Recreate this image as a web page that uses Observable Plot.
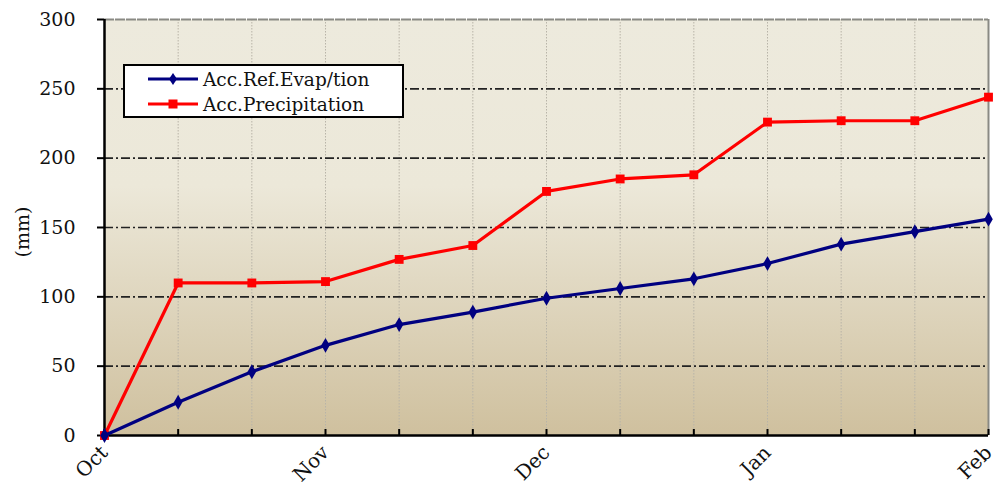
<!DOCTYPE html>
<html>
<head>
<meta charset="utf-8">
<script src="https://cdn.jsdelivr.net/npm/d3@7"></script>
<script src="https://cdn.jsdelivr.net/npm/@observablehq/plot@0.6"></script>
<style>
  html, body { margin: 0; padding: 0; background: #fff; }
  #wrap { position: relative; width: 1005px; height: 486px; font-family: "DejaVu Serif", serif; }
  #wrap svg text { font-family: "DejaVu Serif", serif; }
  #legend { position: absolute; left: 123px; top: 64px; width: 277px; height: 50px; background: #fff; border: 2px solid #000; }
  .row { position: absolute; left: 0; height: 24px; display: flex; align-items: center; font-size: 18.5px; color: #111; white-space: nowrap; font-family: "DejaVu Serif", serif; }
  .row svg { margin-left: 23px; margin-right: 5px; }
</style>
</head>
<body>
<div id="wrap"></div>
<script>
const periods = [0,1,2,3,4,5,6,7,8,9,10,11,12];
const monthTicks = [0,3,6,9,12];
const monthLabels = ["Oct","Nov","Dec","Jan","Feb"];
const evap = [0, 24, 46, 65, 80, 89, 99, 106, 113, 124, 138, 147, 156];
const precip = [0, 110, 110, 111, 127, 137, 176, 185, 188, 226, 227, 227, 244];
const yTicks = [0, 50, 100, 150, 200, 250, 300];
const gridY = [50, 100, 150, 200, 250];
const seriesNames = ["Acc.Ref.Evap/tion", "Acc.Precipitation"];

const evapData = periods.map((p, i) => ({p, v: evap[i]}));
const precData = periods.map((p, i) => ({p, v: precip[i]}));

const defs = () => {
  const d = d3.create("svg:defs");
  const g = d.append("linearGradient").attr("id", "bg").attr("x1", 0).attr("y1", 0).attr("x2", 0).attr("y2", 1);
  g.append("stop").attr("offset", "0%").attr("stop-color", "#edeadd");
  g.append("stop").attr("offset", "40%").attr("stop-color", "#ece8d9");
  g.append("stop").attr("offset", "100%").attr("stop-color", "#cfc09e");
  return d.node();
};

const chart = Plot.plot({
  width: 1005,
  height: 486,
  marginLeft: 104,
  marginRight: 17,
  marginTop: 19,
  marginBottom: 51,
  style: { fontFamily: "'DejaVu Serif', serif", background: "transparent", overflow: "visible" },
  x: { domain: [0, 12] },
  y: { domain: [0, 300] },
  marks: [
    defs,
    Plot.frame({ fill: "url(#bg)", stroke: null }),
    Plot.ruleX(periods.slice(1, -1), { stroke: "#b8b4a8", strokeWidth: 1, strokeDasharray: "1.5,1.5" }),
    Plot.ruleY(gridY, { stroke: "#222", strokeWidth: 1.6, strokeDasharray: "9,3,2,3" }),
    Plot.ruleY([300], { stroke: "#8a8a84", strokeWidth: 2, strokeDasharray: "10,1" }),
    Plot.ruleX([12], { stroke: "#8a8a84", strokeWidth: 2 }),
    Plot.ruleX(periods, { x: d => d, y1: 0, y2: 0, insetTop: -6, stroke: "#000", strokeWidth: 2 }),
    Plot.ruleX([0], { stroke: "#000", strokeWidth: 2.5 }),
    Plot.ruleY([0], { stroke: "#000", strokeWidth: 2.5 }),
    Plot.axisY({ ticks: yTicks, tickSize: 7, fontSize: 19, label: null, tickFormat: d => d, stroke: "#000", strokeWidth: 2, color: "#111" }),
    Plot.axisY({ ticks: yTicks, tickSize: 0, text: d => d, dx: -20, fontSize: 19, label: null, tickFormat: d => d, fill: "#111" }),
    Plot.axisX({ ticks: monthTicks, tickSize: 0, tickRotate: -45, dy: 2, fontSize: 20, label: null, tickFormat: d => monthLabels[monthTicks.indexOf(d)], color: "#111" }),
    Plot.text(["(mm)"], { frameAnchor: "left", dx: -82, dy: 30, rotate: -90, fontSize: 19, fill: "#111" }),
    Plot.line(precData, { x: "p", y: "v", stroke: "#ff0000", strokeWidth: 3.2 }),
    Plot.dot(precData, { x: "p", y: "v", symbol: "square", r: 5, fill: "#ff0000", stroke: null }),
    Plot.line(evapData, { x: "p", y: "v", stroke: "#000080", strokeWidth: 3.2 }),
    Plot.dot(evapData, { x: "p", y: "v", symbol: "diamond", r: 4.5, fill: "#000080", stroke: null })
  ]
});

const wrap = document.getElementById("wrap");
wrap.appendChild(chart);
const yAxes = chart.querySelectorAll('g[aria-label="y-axis tick label"]');
if (yAxes.length > 1) yAxes[0].remove();

const legend = document.createElement("div");
legend.id = "legend";
const swatch = (color, shape) => `<svg width="50" height="14" viewBox="0 0 50 14"><line x1="0" y1="7" x2="50" y2="7" stroke="${color}" stroke-width="3.2"/>${shape}</svg>`;
legend.innerHTML =
  `<div class="row" style="top:1px">${swatch("#000080", '<path d="M25,1 L29,7 L25,13 L21,7 Z" fill="#000080"/>')}<span>${seriesNames[0]}</span></div>` +
  `<div class="row" style="top:26px">${swatch("#ff0000", '<rect x="20.5" y="2.5" width="9" height="9" fill="#ff0000"/>')}<span>${seriesNames[1]}</span></div>`;
wrap.appendChild(legend);
</script>
</body>
</html>
